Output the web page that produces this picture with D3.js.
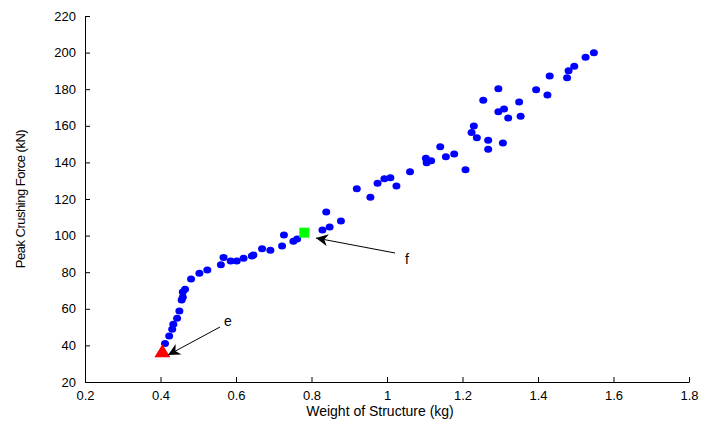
<!DOCTYPE html>
<html>
<head>
<script src="https://cdn.jsdelivr.net/npm/d3@7"></script>
<style>
  body { margin: 0; background: #fff; }
  text { font-family: "Liberation Sans", Arial, sans-serif; }
</style>
</head>
<body>
<div id="chart"></div>
<script>
  var weights = [0.412, 0.423, 0.431, 0.434, 0.444, 0.450, 0.456, 0.459, 0.459, 0.465,
    0.481, 0.503, 0.524, 0.560, 0.567, 0.586, 0.602, 0.620, 0.642, 0.646,
    0.669, 0.691, 0.722, 0.727, 0.752, 0.762, 0.829, 0.848, 0.878, 0.839,
    0.920, 0.956, 0.975, 0.993, 1.009, 1.025, 1.061, 1.103, 1.105, 1.117,
    1.141, 1.156, 1.178, 1.208, 1.224, 1.230, 1.238, 1.268, 1.268, 1.307,
    1.255, 1.295, 1.295, 1.310, 1.321, 1.354, 1.350, 1.395, 1.425, 1.431,
    1.477, 1.481, 1.496, 1.526, 1.548];
  var forces = [41.1, 45.1, 48.8, 51.5, 54.8, 58.8, 64.8, 66.3, 69.2, 70.7,
    76.3, 79.4, 81.2, 84.1, 88.1, 86.1, 86.1, 87.6, 88.9, 89.4,
    92.8, 92.0, 94.3, 100.3, 96.9, 98.1, 103.1, 104.7, 108.0, 112.9,
    125.6, 120.9, 128.6, 131.1, 131.6, 127.1, 134.9, 142.2, 139.8, 140.9,
    148.6, 143.1, 144.6, 136.0, 156.4, 159.9, 153.5, 152.1, 147.2, 150.6,
    173.9, 180.3, 167.7, 169.2, 164.3, 165.2, 173.0, 179.7, 176.8, 187.2,
    186.3, 190.1, 192.5, 197.4, 199.9];
  var pointE = [0.405, 35.7];
  var pointF = [0.781, 101.6];
  var xTicks = [0.2, 0.4, 0.6, 0.8, 1, 1.2, 1.4, 1.6, 1.8];
  var yTicks = [20, 40, 60, 80, 100, 120, 140, 160, 180, 200, 220];

  var W = 701, H = 423;
  var svg = d3.select('#chart').append('svg').attr('width', W).attr('height', H);

  var x = d3.scaleLinear().domain([0.2, 1.8]).range([85, 689]);
  var y = d3.scaleLinear().domain([20, 220]).range([382, 16]);

  svg.append('g')
      .attr('transform', 'translate(0,382)')
      .call(d3.axisBottom(x).tickValues(xTicks).tickSizeInner(-5).tickSizeOuter(0)
        .tickPadding(9).tickFormat(d3.format('')))
      .call(function(g) {
        g.selectAll('text').attr('font-size', 13).attr('font-family', '"Liberation Sans", Arial');
        g.select('.domain').attr('stroke', '#000');
      });

  svg.append('g')
      .attr('transform', 'translate(85,0)')
      .call(d3.axisLeft(y).tickValues(yTicks).tickSizeInner(-5).tickSizeOuter(0).tickPadding(9))
      .call(function(g) {
        g.selectAll('text').attr('font-size', 13).attr('font-family', '"Liberation Sans", Arial');
      });

  svg.append('text').attr('x', 380).attr('y', 416).attr('text-anchor', 'middle')
      .attr('font-size', 14).text('Weight of Structure (kg)');
  svg.append('text').attr('transform', 'translate(25,199) rotate(-90)')
      .attr('text-anchor', 'middle').attr('font-size', 13).attr('letter-spacing', -0.5)
      .text('Peak Crushing Force (kN)');

  svg.append('g').selectAll('ellipse').data(weights).enter().append('ellipse')
      .attr('cx', function(d) { return x(d); })
      .attr('cy', function(d, i) { return y(forces[i]); })
      .attr('rx', 4).attr('ry', 3.5)
      .attr('fill', '#0000ff');

  svg.append('rect')
      .attr('x', x(pointF[0]) - 5).attr('y', y(pointF[1]) - 5)
      .attr('width', 10).attr('height', 10).attr('fill', '#00ff00');

  var tx = x(pointE[0]), ty = y(pointE[1]);
  svg.append('path')
      .attr('d', 'M' + (tx - 8) + ',' + (ty + 4) + 'L' + tx + ',' + (ty - 9) + 'L' + (tx + 8) + ',' + (ty + 4) + 'Z')
      .attr('fill', '#ff0000');

  svg.append('defs').append('marker')
      .attr('id', 'ah').attr('viewBox', '0 0 10 10').attr('refX', 10).attr('refY', 5)
      .attr('markerWidth', 16).attr('markerHeight', 12).attr('markerUnits', 'userSpaceOnUse')
      .attr('orient', 'auto')
      .append('path').attr('d', 'M0,0 L10,5 L0,10 L3,5 Z').attr('fill', '#000');

  function arrow(x1, y1, x2, y2) {
    svg.append('line').attr('x1', x1).attr('y1', y1).attr('x2', x2).attr('y2', y2)
        .attr('stroke', '#000').attr('stroke-width', 1).attr('marker-end', 'url(#ah)');
  }
  arrow(395, 253, 316, 238);
  arrow(220, 327, 168, 355);

  svg.append('text').attr('x', 405).attr('y', 264).attr('font-size', 14).text('f');
  svg.append('text').attr('x', 224).attr('y', 326).attr('font-size', 14).text('e');
</script>
</body>
</html>
